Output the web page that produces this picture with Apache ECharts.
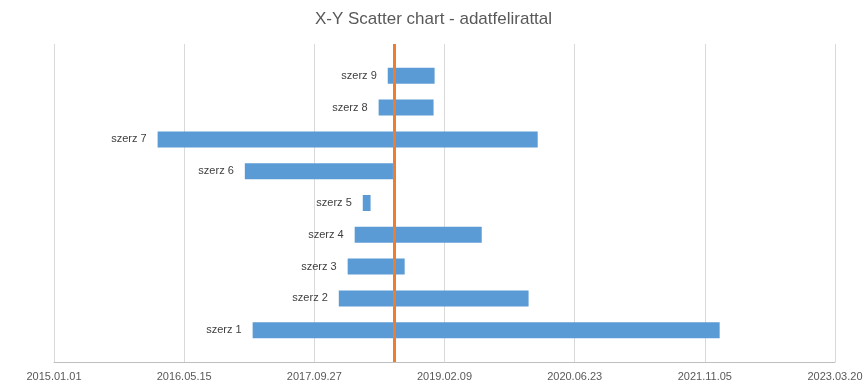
<!DOCTYPE html>
<html>
<head>
<meta charset="utf-8">
<script src="https://cdn.jsdelivr.net/npm/echarts@6/dist/echarts.min.js"></script>
<style>html,body{margin:0;padding:0;background:#fff}#c{width:867px;height:387px}</style>
</head>
<body>
<div id="c"></div>
<script>
var titleText = 'X-Y Scatter chart - adatfelirattal';
var names = ['szerz 1','szerz 2','szerz 3','szerz 4','szerz 5','szerz 6','szerz 7','szerz 8','szerz 9'];
var yPos = [1,2,3,4,5,6,7,8,9];
var startDates = ['2017-02-02','2017-12-30','2018-02-02','2018-03-01','2018-04-01','2017-01-03','2016-02-03','2018-06-01','2018-07-06'];
var endDates   = ['2022-01-01','2019-12-29','2018-09-09','2019-07-02','2018-05-01','2018-07-26','2020-02-02','2018-12-29','2019-01-02'];
var markerDate = '2018-07-30';
var axisStart = '2015-01-01';

function dayOff(s){
  var a = s.split('-').map(Number), b = axisStart.split('-').map(Number);
  return Math.round((Date.UTC(a[0],a[1]-1,a[2]) - Date.UTC(b[0],b[1]-1,b[2]))/86400000);
}
function fmt(d){
  var b = axisStart.split('-').map(Number);
  var t = new Date(Date.UTC(b[0],b[1]-1,b[2]) + d*86400000);
  var p = function(n){return (n<10?'0':'')+n;};
  return t.getUTCFullYear()+'.'+p(t.getUTCMonth()+1)+'.'+p(t.getUTCDate());
}
var data = names.map(function(n,i){ return [dayOff(startDates[i]), dayOff(endDates[i]), yPos[i], n]; });

var chart = echarts.init(document.getElementById('c'));
chart.setOption({
  animation:false,
  title:{text:titleText,left:'center',top:6,textStyle:{fontFamily:'Liberation Sans',fontWeight:'normal',fontSize:17,color:'#595959'}},
  grid:{left:54,right:32,top:44,bottom:25},
  xAxis:{type:'value',min:0,max:3000,interval:500,
    axisLine:{show:true,lineStyle:{color:'#bfbfbf'}},axisTick:{show:false},
    splitLine:{show:true,lineStyle:{color:'#d9d9d9'}},
    axisLabel:{formatter:fmt,color:'#595959',fontFamily:'Liberation Sans',fontSize:11,margin:9}},
  yAxis:{type:'value',min:0,max:10,show:false,splitLine:{show:false}},
  series:[{
    type:'custom',
    data:data,
    encode:{x:[0,1],y:2},
    renderItem:function(params,api){
      var s = api.coord([api.value(0), api.value(2)]);
      var e = api.coord([api.value(1), api.value(2)]);
      var h = 16;
      return {type:'group',children:[
        {type:'rect',shape:{x:s[0],y:s[1]-h/2,width:e[0]-s[0],height:h},style:{fill:'#5b9bd5'}},
        {type:'text',style:{text:data[params.dataIndex][3],x:s[0]-11,y:s[1],align:'right',verticalAlign:'middle',fill:'#404040',font:'11px Liberation Sans'}}
      ]};
    },
    markLine:{silent:true,symbol:'none',label:{show:false},
      lineStyle:{color:'#ed7d31',width:3,type:'solid'},
      data:[{xAxis:dayOff(markerDate)}]},
    z:2
  }]
});
</script>
</body>
</html>
